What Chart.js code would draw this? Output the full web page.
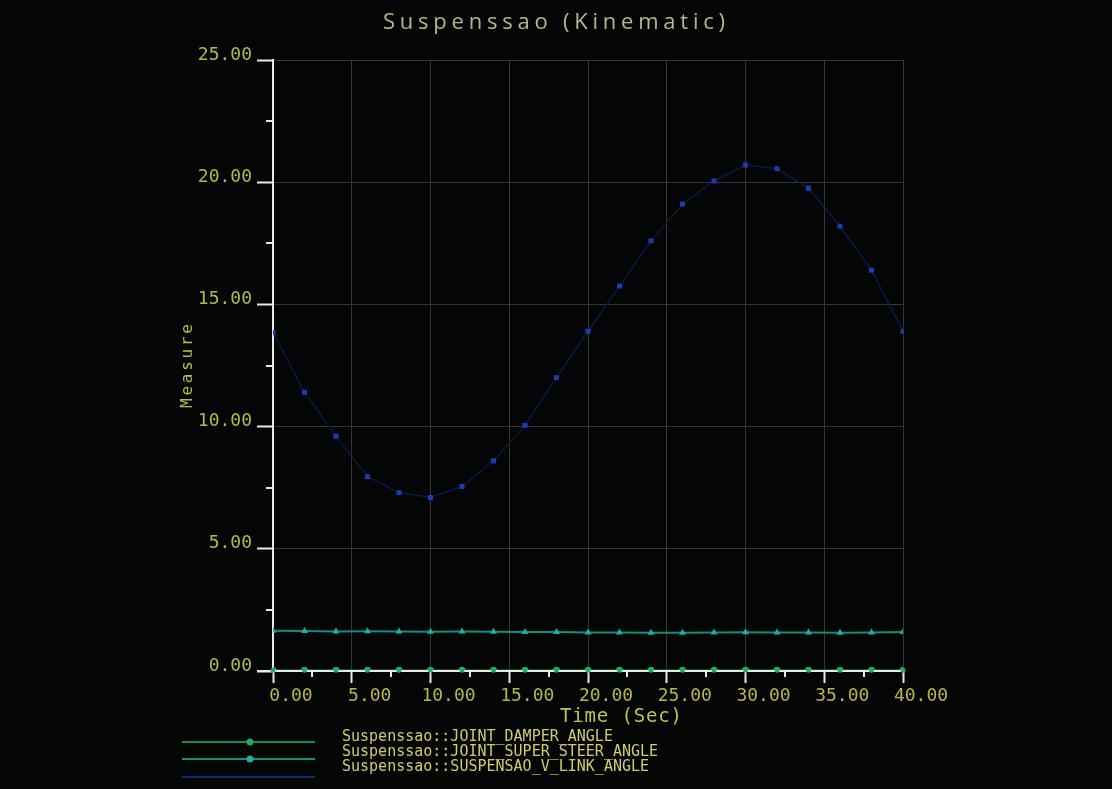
<!DOCTYPE html>
<html>
<head>
<meta charset="utf-8">
<script src="https://cdn.jsdelivr.net/npm/chart.js@4.4.1/dist/chart.umd.min.js"></script>
<style>
  html, body { margin: 0; padding: 0; background: #040606; }
  #wrap { width: 1112px; height: 789px; }
</style>
</head>
<body>
<div id="wrap"><canvas id="c" width="1112" height="789"></canvas></div>
<script>
// Text
const chartTitle = 'Suspenssao (Kinematic)';
const xAxisTitle = 'Time (Sec)';
const yAxisTitle = 'Measure';
const seriesNames = [
  'Suspenssao::JOINT_DAMPER_ANGLE',
  'Suspenssao::JOINT_SUPER_STEER_ANGLE',
  'Suspenssao::SUSPENSAO_V_LINK_ANGLE'
];

// Sample times (s)
const timeSec = [0, 2, 4, 6, 8, 10, 12, 14, 16, 18, 20, 22, 24, 26, 28, 30, 32, 34, 36, 38, 40];

// Measured angles
const damperAngle = [0.03, 0.03, 0.03, 0.03, 0.03, 0.03, 0.03, 0.03, 0.03, 0.03, 0.03,
                     0.03, 0.03, 0.03, 0.03, 0.03, 0.03, 0.03, 0.03, 0.03, 0.03];
const superSteerAngle = [1.65, 1.64, 1.62, 1.63, 1.62, 1.61, 1.62, 1.61, 1.6, 1.6, 1.58,
                         1.58, 1.57, 1.57, 1.58, 1.59, 1.58, 1.58, 1.57, 1.58, 1.6];
const vLinkAngle = [13.85, 11.4, 9.6, 7.95, 7.3, 7.1, 7.55, 8.6, 10.05, 12.0, 13.9,
                    15.75, 17.6, 19.1, 20.05, 20.7, 20.55, 19.75, 18.2, 16.4, 13.9];

// Axis ticks
const xTicks = [0, 5, 10, 15, 20, 25, 30, 35, 40];
const yTicks = [0, 5, 10, 15, 20, 25];
const xMinorTicks = [2.5, 7.5, 12.5, 17.5, 22.5, 27.5, 32.5, 37.5];
const yMinorTicks = [2.5, 7.5, 12.5, 17.5, 22.5];

const MONO = "'DejaVu Sans Mono', monospace";
const AXIS_WHITE = '#e8e8e8';
const LABEL_YELLOW = '#b9b648';

const toPoints = ys => timeSec.map((t, i) => ({ x: t, y: ys[i] }));

// Text drawn with its letters spread over a given width
function drawSpread(ctx, text, left, y, width, font, color) {
  ctx.save();
  ctx.font = font;
  ctx.letterSpacing = '0px';
  const w0 = ctx.measureText(text).width;
  const gap = (width - w0) / Math.max(1, text.length - 1);
  ctx.letterSpacing = gap.toFixed(2) + 'px';
  ctx.fillStyle = color;
  ctx.textAlign = 'left';
  ctx.textBaseline = 'middle';
  ctx.fillText(text, left, y);
  ctx.restore();
}

const backdrop = {
  id: 'backdrop',
  beforeDraw(chart) {
    const c = chart.ctx;
    c.save();
    c.fillStyle = '#040606';
    c.fillRect(0, 0, chart.width, chart.height);
    c.restore();
  }
};

// Minor ticks and the base line redrawn over the zero-level series
const axisDetails = {
  id: 'axisDetails',
  afterDatasetsDraw(chart) {
    const c = chart.ctx;
    const { x, y } = chart.scales;
    const area = chart.chartArea;
    c.save();
    c.strokeStyle = AXIS_WHITE;
    c.lineWidth = 2;
    c.beginPath();
    c.moveTo(area.left - 16, y.getPixelForValue(0));
    c.lineTo(area.right, y.getPixelForValue(0));
    for (const v of xMinorTicks) {
      const px = Math.round(x.getPixelForValue(v));
      c.moveTo(px, area.bottom);
      c.lineTo(px, area.bottom + 6);
    }
    for (const v of yMinorTicks) {
      const py = Math.round(y.getPixelForValue(v));
      c.moveTo(area.left - 7, py);
      c.lineTo(area.left, py);
    }
    c.stroke();
    // zero-level markers stay visible on the axis line
    const meta = chart.getDatasetMeta(0);
    c.fillStyle = chart.data.datasets[0].pointBackgroundColor;
    for (const pt of meta.data) {
      c.beginPath();
      c.arc(pt.x, pt.y, 2.5, 0, Math.PI * 2);
      c.fill();
    }
    c.restore();
  }
};

// Title, axis titles and the stacked legend below the plot
const captions = {
  id: 'captions',
  afterDraw(chart) {
    const c = chart.ctx;
    drawSpread(c, chartTitle, 383, 23, 342, "22px 'Open Sans', sans-serif", '#b6b68a');
    drawSpread(c, xAxisTitle, 560, 717, 122, '19px ' + MONO, '#c3c150');

    c.save();
    c.translate(188, 365);
    c.rotate(-Math.PI / 2);
    drawSpread(c, yAxisTitle, -43, 0, 84, '16px ' + MONO, '#bdb94c');
    c.restore();

    const rows = [742, 759, 777];
    const textRows = [737, 752, 767];
    chart.data.datasets.forEach((ds, i) => {
      c.save();
      c.strokeStyle = ds.legendLine;
      c.lineWidth = 2;
      c.beginPath();
      c.moveTo(182, rows[i]);
      c.lineTo(315, rows[i]);
      c.stroke();
      if (ds.legendMarker) {
        c.fillStyle = ds.pointBackgroundColor;
        c.beginPath();
        c.arc(250, rows[i], 3.5, 0, Math.PI * 2);
        c.fill();
      }
      c.font = '15px ' + MONO;
      c.fillStyle = '#d0cc6c';
      c.textAlign = 'left';
      c.textBaseline = 'middle';
      c.fillText(ds.label, 342, textRows[i]);
      c.restore();
    });
  }
};

new Chart(document.getElementById('c'), {
  type: 'line',
  data: {
    datasets: [
      {
        label: seriesNames[0],
        data: toPoints(damperAngle),
        borderColor: '#15874a',
        borderWidth: 1.5,
        pointStyle: 'circle',
        pointRadius: 3.5,
        pointBackgroundColor: '#21ad60',
        pointBorderWidth: 0,
        legendLine: '#178a4e',
        legendMarker: true
      },
      {
        label: seriesNames[1],
        data: toPoints(superSteerAngle),
        borderColor: '#0f8f7c',
        borderWidth: 2,
        pointStyle: 'triangle',
        pointRadius: 4,
        pointBackgroundColor: '#1eb09b',
        pointBorderWidth: 0,
        legendLine: '#129080',
        legendMarker: true
      },
      {
        label: seriesNames[2],
        data: toPoints(vLinkAngle),
        borderColor: '#0b1848',
        borderWidth: 1.5,
        pointStyle: 'rect',
        pointRadius: 3.5,
        pointBackgroundColor: '#1e3bb5',
        pointBorderWidth: 0,
        legendLine: '#112a78',
        legendMarker: false
      }
    ]
  },
  options: {
    responsive: false,
    animation: false,
    devicePixelRatio: 1,
    layout: { padding: { top: 60, right: 209, bottom: 60, left: 0 } },
    plugins: {
      legend: { display: false },
      title: { display: false },
      tooltip: { enabled: false }
    },
    scales: {
      x: {
        type: 'linear',
        min: 0,
        max: 40,
        afterBuildTicks: s => { s.ticks = xTicks.map(v => ({ value: v })); },
        afterFit: s => { s.height = 58; },
        grid: { color: '#363636', lineWidth: 1, drawTicks: true, tickLength: 12, tickColor: AXIS_WHITE, tickWidth: 2 },
        border: { display: true, color: AXIS_WHITE, width: 2 },
        ticks: {
          color: LABEL_YELLOW,
          font: { family: MONO, size: 18 },
          padding: 3,
          labelOffset: 18,
          maxRotation: 0,
          autoSkip: false,
          callback: v => Number(v).toFixed(2)
        }
      },
      y: {
        min: 0,
        max: 25,
        afterBuildTicks: s => { s.ticks = yTicks.map(v => ({ value: v })); },
        afterFit: s => { s.width = 273; },
        grid: { color: '#363636', lineWidth: 1, drawTicks: true, tickLength: 16, tickColor: AXIS_WHITE, tickWidth: 2 },
        border: { display: true, color: AXIS_WHITE, width: 2 },
        ticks: {
          color: LABEL_YELLOW,
          font: { family: MONO, size: 18 },
          padding: 5,
          labelOffset: -5,
          callback: v => Number(v).toFixed(2)
        }
      }
    }
  },
  plugins: [backdrop, axisDetails, captions]
});
</script>
</body>
</html>
